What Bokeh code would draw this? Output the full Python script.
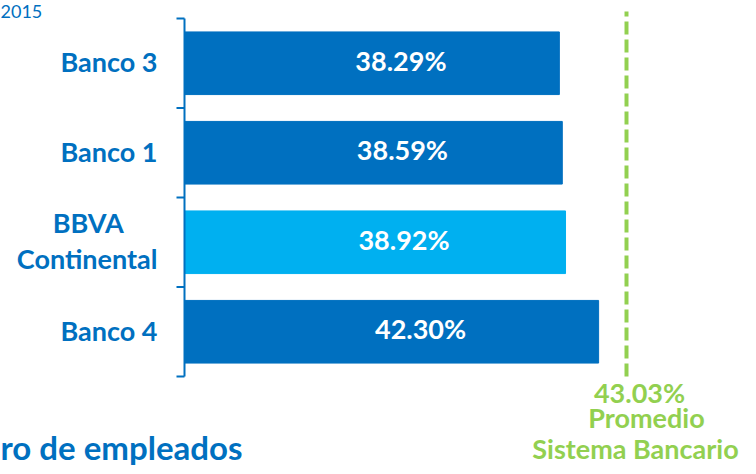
from bokeh.plotting import figure
from bokeh.models import Range1d, ColumnDataSource
from bokeh.core.properties import value
from bokeh.embed import file_html
from bokeh.resources import INLINE

# ---- data (top to bottom as drawn) ----
categories = ["Banco 3", "Banco 1", "BBVA\nContinental", "Banco 4"]
values = [38.29, 38.59, 38.92, 42.30]
highlight = "BBVA\nContinental"
average_value = 43.03
average_label = ["Promedio", "Sistema Bancario"]
year_text = "2015"
bottom_title = "ro de empleados"

DARK = "#0070C0"
LIGHT = "#00B0F0"
GREEN = "#92D050"
FONT = value("Lato")
W, H = 748, 466

n = len(categories)
ypos = [n - 1 - i + 0.5 for i in range(n)]
colors = [LIGHT if c == highlight else DARK for c in categories]

# layout helpers: pixel positions inside the canvas -> data units
X0_PX, PX_PER_X = 184, 9.79
Y0_PX, PX_PER_Y = 376, 89.5
FIX = 10  # renderer places alphabetic baselines ~10px low; compensate
def dx(px):
    return (px - X0_PX) / PX_PER_X
def dy(py):
    return (Y0_PX - py + FIX) / PX_PER_Y
def ddy(px):  # pixel distance (downwards) -> data shift
    return -(px - FIX) / PX_PER_Y

p = figure(width=W, height=H,
           x_range=Range1d(dx(0), dx(W)),
           y_range=Range1d((Y0_PX - H) / PX_PER_Y, Y0_PX / PX_PER_Y),
           x_axis_location=None, y_axis_location=None,
           toolbar_location=None, output_backend="svg",
           min_border=0)
p.outline_line_color = None
p.xgrid.grid_line_color = None
p.ygrid.grid_line_color = None
# secondary scale used by the average marker
AVG_PX = 626
avg_scale = (AVG_PX - X0_PX) / average_value
p.extra_x_ranges = {"prom": Range1d(-X0_PX / avg_scale, (W - X0_PX) / avg_scale)}

# bars
src = ColumnDataSource(dict(y=ypos, right=values, color=colors,
                            tx=[v / 2 for v in values],
                            ty=[y + ddy(7) for y in ypos],
                            label=[f"{v:.2f}%" for v in values]))
p.hbar(y="y", left=0, right="right", height=0.7, color="color", source=src)
p.text(x="tx", y="ty", text="label", source=src, x_offset=29,
       text_color="white", text_font=FONT, text_font_style="bold",
       text_font_size="27px", text_align="center", text_baseline="alphabetic")

# category axis: line + boundary ticks
p.segment(x0=[0], y0=[0], x1=[0], y1=[n], line_color=DARK, line_width=2)
bounds = list(range(n + 1))
p.segment(x0=[dx(176)] * len(bounds), y0=bounds, x1=[0] * len(bounds), y1=bounds,
          line_color=DARK, line_width=2)

# category labels (right aligned; extra lines centred over the last line)
LBL_RIGHT = dx(157)
CHAR_W = 12.6
lx, ly, lt, la = [], [], [], []
for cat, yc in zip(categories, ypos):
    lines = cat.split("\n")
    k = len(lines)
    widest = max(len(s) for s in lines)
    for j, line in enumerate(lines):
        ly.append(yc + ddy(8.5 + (j - (k - 1) / 2) * 35.6))
        lt.append(line)
        if j == k - 1:
            lx.append(LBL_RIGHT)
            la.append("right")
        else:
            lx.append(LBL_RIGHT - widest * CHAR_W / 2 / PX_PER_X)
            la.append("center")
lsrc = ColumnDataSource(dict(x=lx, y=ly, t=lt, a=la))
p.text(x="x", y="y", text="t", text_align="a", source=lsrc,
       text_color=DARK, text_font=FONT, text_font_style="bold",
       text_font_size="27px", text_baseline="alphabetic")

# average marker
p.segment(x0=[average_value], y0=[0], x1=[average_value], y1=[(Y0_PX - 11) / PX_PER_Y],
          x_range_name="prom", line_color=GREEN, line_width=4, line_dash="13 5")

def txt(t, x, y, align, color, size, style="bold"):
    p.text(x=[x], y=[y], text=[t], text_align=align, text_baseline="alphabetic",
           text_color=color, text_font=FONT, text_font_style=style,
           text_font_size=size)

txt(f"{average_value:.2f}%", dx(639), dy(402), "center", GREEN, "27px")
txt(average_label[0], dx(646), dy(427), "center", GREEN, "27px")
txt(average_label[1], dx(635), dy(458), "center", GREEN, "27px")
txt(year_text, dx(0), dy(21), "left", DARK, "18px", "normal")
txt(bottom_title, dx(0), dy(456), "left", DARK, "33px")

open("out.html", "w").write(file_html(p, INLINE))
